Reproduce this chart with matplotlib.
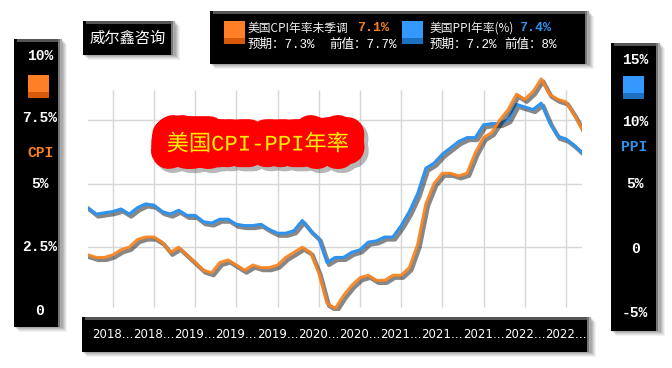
import numpy as np
import matplotlib.pyplot as plt
import matplotlib.patheffects as pe
from matplotlib.patches import Rectangle

plt.rcParams['font.family'] = ['Noto Sans CJK SC', 'DejaVu Sans']

# ----- data: monthly, 2017-11 .. 2022-11 -----
cpi = [2.2, 2.1,
       2.1, 2.2, 2.4, 2.5, 2.8, 2.9, 2.9, 2.7, 2.3, 2.5, 2.2, 1.9,
       1.6, 1.5, 1.9, 2.0, 1.8, 1.6, 1.8, 1.7, 1.7, 1.8, 2.1, 2.3,
       2.5, 2.3, 1.5, 0.3, 0.1, 0.6, 1.0, 1.3, 1.4, 1.2, 1.2, 1.4,
       1.4, 1.7, 2.6, 4.2, 5.0, 5.4, 5.4, 5.3, 5.4, 6.2, 6.8, 7.0,
       7.5, 7.9, 8.5, 8.3, 8.6, 9.1, 8.5, 8.3, 8.2, 7.7, 7.1]
ppi = [3.1, 2.6,
       2.7, 2.8, 3.0, 2.6, 3.1, 3.4, 3.3, 2.8, 2.6, 2.9, 2.5, 2.5,
       2.0, 1.9, 2.2, 2.2, 1.8, 1.7, 1.7, 1.8, 1.4, 1.1, 1.1, 1.3,
       2.1, 1.3, 0.7, -1.2, -0.8, -0.8, -0.4, -0.2, 0.4, 0.5, 0.8, 0.8,
       1.7, 2.8, 4.2, 6.2, 6.6, 7.3, 7.8, 8.3, 8.6, 8.6, 9.6, 9.7,
       9.7, 10.0, 11.2, 11.0, 10.8, 11.3, 9.8, 8.7, 8.5, 8.0, 7.4]
tick_idx = [3, 8, 13, 18, 23, 28, 33, 38, 43, 48, 53, 58]
tick_labels = ['2018…', '2018…', '2019…', '2019…', '2019…', '2020…',
               '2020…', '2021…', '2021…', '2021…', '2022…', '2022…']
cpi_ticks = ['10%', '7.5%', '5%', '2.5%', '0']
ppi_ticks = ['15%', '10%', '5%', '0', '-5%']

ORANGE = '#F7821E'
BLUE = '#2F93EE'
W, H = 672, 368

fig = plt.figure(figsize=(6.72, 3.68), dpi=100)
fig.patch.set_facecolor('white')

# ----- chart axes -----
x = np.arange(len(cpi))
ax = fig.add_axes([88 / W, (H - 311) / H, (582.4 - 88) / W, (311 - 56) / H], zorder=1)
ax.set_xlim(0, len(cpi) - 1)
ax.set_ylim(0, 10)
ax.axis('off')
ax2 = ax.twinx()
ax2.set_ylim(-5, 15)
ax2.axis('off')

ax.vlines(tick_idx, 4 / 25.5, 221 / 25.5, color='#d6d6d6', lw=1, zorder=0)
ax.hlines([2.5, 5, 7.5], -0.1, 60.5, color='#d6d6d6', lw=1, zorder=0)

shadow = [pe.SimpleLineShadow(offset=(1.5, -1.8), shadow_color='#111', alpha=0.5,
                              linewidth=3), pe.Normal()]
ax2.plot(x, ppi, color=BLUE, lw=2.2, path_effects=shadow, solid_joinstyle='round')
ax2.plot(x, [c * 2 - 5 for c in cpi], color=ORANGE, lw=2.2,
         path_effects=shadow, solid_joinstyle='round', alpha=0.92)

# ----- overlay in pixel units -----
ov = fig.add_axes([0, 0, 1, 1], zorder=3)
ov.set_xlim(0, W)
ov.set_ylim(H, 0)
ov.axis('off')
ov.patch.set_alpha(0)


def panel(x0, y0, x1, y1):
    for k, a in zip(range(1, 6), [0.10, 0.09, 0.08, 0.06, 0.05]):
        ov.add_patch(Rectangle((x0 + k, y0 + k), x1 - x0, y1 - y0, color='#000', alpha=a, lw=0))
    ov.add_patch(Rectangle((x0, y0), x1 - x0, y1 - y0, color='black', lw=0))
    ov.add_patch(Rectangle((x0 + 3, y0), x1 - x0 - 3, 3, color='#555', lw=0))
    ov.add_patch(Rectangle((x1 - 4, y0), 4, y1 - y0, color='#777', lw=0))
    ov.add_patch(Rectangle((x1 - 2, y0), 2, y1 - y0, color='#aaa', lw=0))


def swatch(x0, y0, c_top, c_bot):
    ov.add_patch(Rectangle((x0, y0), 21, 23, color=c_top, lw=0))
    ov.add_patch(Rectangle((x0, y0 + 17), 21, 6, color=c_bot, lw=0))


mono = ['Liberation Mono', 'Noto Sans CJK SC']

# left CPI panel
panel(14, 39, 62, 327)
for t, yy in zip(cpi_ticks, [56, 118, 184, 247, 311]):
    ov.text(40, yy, t, color='white', fontsize=10.5, fontweight='bold', family=mono,
            ha='center', va='center')
swatch(28, 75, '#FF7F27', '#D65A0A')
ov.text(40, 153, 'CPI', color=ORANGE, fontsize=10.5, fontweight='bold', family=mono,
        ha='center', va='center')

# right PPI panel
panel(611, 43, 660, 331)
for t, yy in zip(ppi_ticks, [60, 122, 184, 249, 313]):
    ov.text(635, yy, t, color='white', fontsize=10.5, fontweight='bold', family=mono,
            ha='center', va='center')
swatch(623, 76, '#3399FF', '#1B70BF')
ov.text(634, 147, 'PPI', color=BLUE, fontsize=10.5, fontweight='bold', family=mono,
        ha='center', va='center')

# brand box
panel(83, 21, 175, 55)
ov.text(128, 38, '威尔鑫咨询', color='white', fontsize=11, ha='center', va='center')

# legend box
panel(210, 11, 589, 64)
swatch(224, 21, '#FF7F27', '#D65A0A')
ov.text(248, 28, '美国CPI年率未季调', color='#f0f0f0', fontsize=8.5, va='center')
ov.text(357, 28, '7.1%', color=ORANGE, fontsize=9.5, fontweight='bold', family=mono, va='center')
ov.text(248, 45, '预期：7.3%', color='white', fontsize=9, family=mono, va='center')
ov.text(329, 45, '前值：7.7%', color='white', fontsize=9, family=mono, va='center')
swatch(402, 21, '#3399FF', '#1B70BF')
ov.text(430, 28, '美国PPI年率(%)', color='#f0f0f0', fontsize=8.5, va='center')
ov.text(519, 28, '7.4%', color=BLUE, fontsize=9.5, fontweight='bold', family=mono, va='center')
ov.text(430, 45, '预期：7.2%', color='white', fontsize=9, family=mono, va='center')
ov.text(504, 45, '前值：8%', color='white', fontsize=9, family=mono, va='center')

# bottom axis box
panel(82, 317, 591, 352)
tick_px = [88 + i * (582.4 - 88) / (len(cpi) - 1) for i in tick_idx]
for xp, t in zip(tick_px, tick_labels):
    ov.text(xp, 334, t, color='white', fontsize=8.5, family='DejaVu Sans',
            ha='center', va='center')

# title blob
ov.text(258, 145, '美国CPI-PPI年率', color='#FFF000', fontsize=16, family=mono,
        ha='center', va='center',
        path_effects=[pe.Stroke(linewidth=24, foreground='#333', alpha=0.35, offset=(3, -3)),
                      pe.Stroke(linewidth=24, foreground='#FF0000'),
                      pe.Normal()])

fig.savefig('out.png', dpi=100)
